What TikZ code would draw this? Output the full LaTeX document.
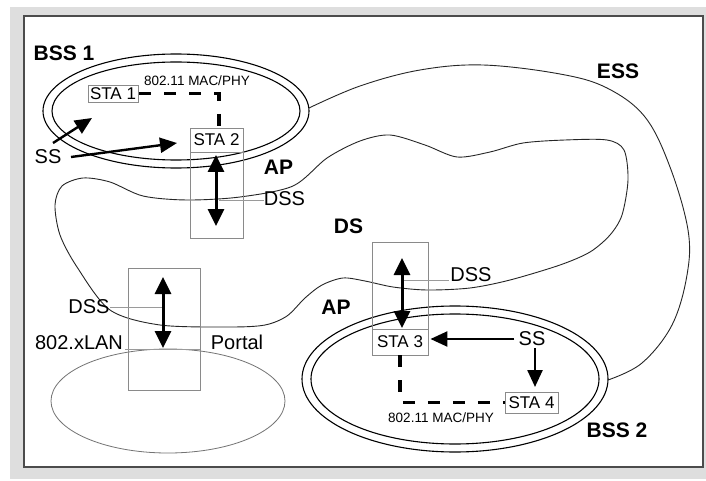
\documentclass[tikz,border=0pt]{standalone}
\usepackage{fontspec}
\setmainfont{Liberation Sans}
\usetikzlibrary{arrows.meta}
\definecolor{framegray}{HTML}{DEDEDE}
\definecolor{boxgray}{HTML}{8A8A8A}
\definecolor{linegray}{HTML}{9A9A9A}
\begin{document}
\begin{tikzpicture}[x=1pt,y=-1pt,
  lbl/.style={font=\fontsize{20}{22}\selectfont, inner sep=0pt},
  blbl/.style={font=\fontsize{21}{24}\selectfont\bfseries, inner sep=0pt},
  mac/.style={font=\fontsize{13.5}{15}\selectfont, inner sep=0pt},
  stabox/.style={draw=boxgray, line width=0.9pt, font=\fontsize{17}{18}\selectfont, inner sep=0pt, minimum width=53pt, minimum height=22pt},
  apbox/.style={draw=boxgray, line width=0.9pt, inner sep=0pt},
  curveline/.style={draw=black!85, line width=0.9pt},
  bssring/.style={draw=black, line width=1.1pt},
  gline/.style={draw=linegray, line width=0.9pt},
  dblarrow/.style={line width=3pt, {Triangle[width=16pt,length=17pt]}-{Triangle[width=16pt,length=17pt]}},
  ssarrow/.style={line width=2.4pt, -{Triangle[width=15pt,length=17pt]}},
  macdash/.style={line width=3.2pt, dash pattern=on 12pt off 13pt}
]
% frame
\useasboundingbox (0,0) rectangle (706,481);
\fill[white] (0,0) rectangle (706,481);
\fill[framegray] (10,7) rectangle (706,479);
\fill[white] (24,16) rectangle (703,467);
\draw[black!70, line width=2.2pt] (24,16) rectangle (703,467);

% ESS curve
\draw[curveline] plot[smooth, tension=0.6] coordinates {(309,108) (360,86) (420,70) (483,65) (560,74) (607,88) (645,117) (670,167) (688,230) (687,275) (672,325) (642,363) (608,380)};

% DS blob
\draw[curveline] plot[smooth cycle, tension=0.5] coordinates {(55,205) (62,186) (83,178) (110,182) (143,196) (187,200) (240,197) (293,186) (327,158) (360,141) (390,135) (425,145) (457,157) (490,152) (523,143) (565,140) (607,140) (624,150) (628,180) (622,215) (610,235) (590,252) (560,265) (510,280) (470,288) (427,290) (393,287) (365,281) (343,278) (322,285) (305,298) (287,316) (265,325) (230,327) (160,325) (110,310) (77,267) (60,235)};

% BSS rings
\draw[bssring] (176,111) ellipse [x radius=133, y radius=57];
\draw[bssring] (176,111) ellipse [x radius=124, y radius=49];
\draw[bssring] (455,379) ellipse [x radius=153, y radius=73];
\draw[bssring] (455,379) ellipse [x radius=144, y radius=65];

% LAN ellipse
\draw[draw=black!55, line width=0.8pt] (168,401) ellipse [x radius=117, y radius=52];

% AP boxes and stations
\node[apbox, minimum width=53pt, minimum height=110pt] (ap1) at (216.5,183) {};
\node[stabox, minimum height=24pt] (sta2) at (216.5,140) {STA 2};
\node[stabox, minimum width=50pt, minimum height=17pt] (sta1) at (113,93.5) {STA 1};
\node[apbox, minimum width=56pt, minimum height=113pt] (ap2) at (400,298.5) {};
\node[stabox, minimum width=56pt, minimum height=26pt] (sta3) at (400,342) {STA 3};
\node[stabox, minimum width=53pt, minimum height=21pt] (sta4) at (531.5,402.5) {STA 4};
\node[apbox, minimum width=72pt, minimum height=122pt] (portal) at (164,329) {};

% labels
\node[blbl] (bss1) at (64,53) {BSS 1};
\node[blbl] (ess) at (618,71) {ESS};
\node[blbl] (ap1l) at (278.5,167.5) {AP};
\node[blbl] (ds) at (348.5,226) {DS};
\node[blbl] (ap2l) at (336,307) {AP};
\node[blbl] (bss2) at (617,430) {BSS 2};
\node[lbl] (dss1) at (284.5,199) {DSS};
\node[lbl] (dss2) at (471,275) {DSS};
\node[lbl] (dss3) at (89,307) {DSS};
\node[lbl] (lan) at (79,343) {802.xLAN};
\node[lbl] (portall) at (237,342) {Portal};
\node[lbl] (ss1) at (48,157) {SS};
\node[lbl] (ss2) at (532,339) {SS};
\node[mac] (mac1) at (197,81) {802.11 MAC/PHY};
\node[mac] (mac2) at (441,418) {802.11 MAC/PHY};

% gray leader lines
\coordinate (d1) at (219,200);
\draw[gline] (d1) -- (d1 -| dss1.west);
\coordinate (d2) at (404,280);
\draw[gline] (d2) -- ([xshift=-1pt]d2 -| dss2.west);
\coordinate (d3) at (163,307);
\draw[gline] (dss3.east) -- (d3);
\coordinate (d4) at (125,349);
\draw[gline] (d4) -- (d4 -| portal.east);

% double arrows
\coordinate (a1t) at (216,155);
\coordinate (a1b) at (216,226);
\draw[dblarrow] (a1t) -- (a1b);
\coordinate (a2t) at (402,258);
\coordinate (a2b) at (402,328);
\draw[dblarrow] (a2t) -- (a2b);
\coordinate (a3t) at (163,277);
\coordinate (a3b) at (163,348);
\draw[dblarrow] (a3t) -- (a3b);

% SS arrows
\coordinate (ssa0) at (53,143);
\coordinate (ssa1) at (92,118);
\draw[ssarrow] (ssa0) -- (ssa1);
\coordinate (ssb0) at (71,157);
\coordinate (ssb1) at (177,143);
\draw[ssarrow] (ssb0) -- (ssb1);
\draw[ssarrow] ([xshift=-4pt]ss2.west) -- ([xshift=2pt]sta3.east |- ss2.west);
\coordinate (ssc0) at (535,348);
\draw[ssarrow] (ssc0) -- (ssc0 |- 0,387);

% 802.11 MAC/PHY dashed links
\draw[macdash, dash phase=24pt] (sta1.east) -| ([xshift=2.5pt]sta2.north);
\draw[macdash] (sta3.south) |- (sta4.west);
\end{tikzpicture}
\end{document}
